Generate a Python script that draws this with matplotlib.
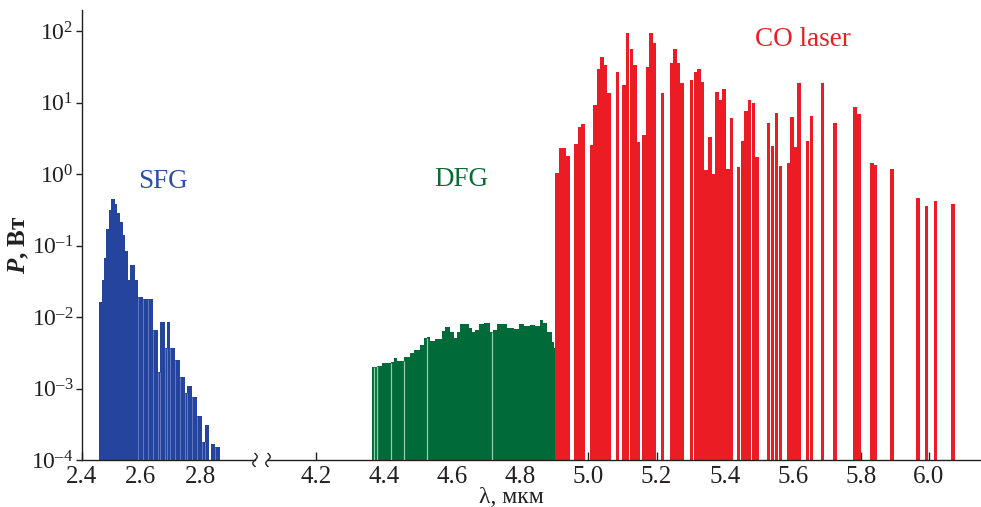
import numpy as np
import matplotlib
matplotlib.use('Agg')
import matplotlib.pyplot as plt
import matplotlib.transforms as mtransforms
from matplotlib.lines import Line2D
from matplotlib.ticker import FixedLocator, NullLocator, FuncFormatter, FormatStrFormatter

plt.rcParams['font.family'] = ['Liberation Serif', 'DejaVu Serif']
plt.rcParams['mathtext.fontset'] = 'custom'
plt.rcParams['mathtext.rm'] = 'Liberation Serif'
plt.rcParams['mathtext.it'] = 'Liberation Serif:italic:bold'
plt.rcParams['mathtext.bf'] = 'Liberation Serif:bold'

# ---------------- data ----------------
# SFG: step spectrum, bin edges (um) and power (W)
sfg_edges = [2.4599, 2.4678, 2.4756, 2.4824, 2.4935, 2.5003, 2.5126, 2.5204, 2.5294,
             2.5384, 2.5462, 2.5552, 2.5630, 2.5798, 2.5910, 2.6078, 2.6246, 2.6414,
             2.6583, 2.6639, 2.6807, 2.6863, 2.6975, 2.7143, 2.7311, 2.7479, 2.7557,
             2.7703, 2.7893, 2.8061, 2.8151, 2.8286, 2.8342, 2.8487, 2.8655]
sfg_power = [0.0164, 0.0329, 0.0662, 0.168, 0.314, 0.443, 0.380, 0.282, 0.215, 0.140,
             0.0845, 0.0329, 0.0533, 0.0329, 0.0188, 0.0177, 0.0177, 0.00658, 0.00172,
             0.00861, 0.00365, 0.00861, 0.00365, 0.00251, 0.00143, 0.000855, 0.00109,
             0.000769, 0.000412, 0.000180, 0.000309, np.nan, 0.000166, 0.000153]

# DFG: step spectrum, bin edges (um) and power (W)
dfg_edges = [4.3657, 4.3794, 4.3931, 4.4196, 4.4275, 4.4373, 4.4578, 4.4765, 4.4863,
             4.5059, 4.5157, 4.5255, 4.5353, 4.5500, 4.5696, 4.5794, 4.5941, 4.6039,
             4.6137, 4.6235, 4.6480, 4.6578, 4.6676, 4.6775, 4.6922, 4.7118, 4.7186,
             4.7314, 4.7608, 4.7804, 4.7951, 4.8098, 4.8294, 4.8441, 4.8588, 4.8667,
             4.8784, 4.8931, 4.8980, 4.9029]
dfg_power = [0.00198, 0.00207, 0.00225, 0.00237, 0.00264, 0.00243, 0.00279, 0.00310,
             0.00345, 0.00406, 0.00514, 0.00519, 0.00467, 0.00488, 0.00644, 0.00716,
             0.00624, 0.00504, 0.00624, 0.00789, 0.00693, 0.00611, 0.00658, 0.00798,
             0.00815, 0.00624, 0.00658, 0.00789, 0.00693, 0.00672, 0.00789, 0.00748,
             0.00773, 0.00748, 0.00908, 0.00815, 0.00624, 0.00452, 0.00365]
dfg_gaps = [4.3715, 4.3804, 4.4196, 4.4569, 4.5255, 4.7167]

# CO laser lines: wavelength (um) and power (W)
co_wl = [4.9082, 4.9188, 4.9294, 4.9397, 4.9638, 4.9741, 4.9841, 5.0091, 5.0191, 5.0291,
         5.0394, 5.0494, 5.0597, 5.0853, 5.1044, 5.1153, 5.1259, 5.1368, 5.1476, 5.1632,
         5.1735, 5.1841, 5.1947, 5.2168, 5.2435, 5.2541, 5.2647, 5.2750, 5.3032, 5.3141,
         5.3247, 5.3353, 5.3459, 5.3565, 5.3671, 5.3776, 5.3882, 5.3988, 5.4097, 5.4203,
         5.4409, 5.4518, 5.4626, 5.4735, 5.4847, 5.4956, 5.5294, 5.5409, 5.5524, 5.5638,
         5.5875, 5.5978, 5.6081, 5.6184, 5.6435, 5.6544, 5.6882, 5.7244, 5.7831, 5.7944,
         5.8329, 5.8435, 5.8921, 5.9685, 5.9935, 6.0197, 6.0706]
co_p = [1.02, 2.29, 2.33, 1.79, 2.63, 4.50, 5.00, 2.54, 9.23, 29.1, 43.8, 33.5, 13.4,
        26.4, 17.6, 92.7, 55.4, 33.5, 2.83, 3.51, 31.7, 92.7, 68.7, 13.7, 35.3, 55.4,
        35.3, 18.9, 20.6, 27.0, 29.1, 19.6, 1.14, 3.26, 1.0, 14.2, 10.8, 15.3, 1.16,
        6.0, 1.27, 2.93, 7.69, 10.8, 9.73, 1.71, 5.11, 2.46, 7.06, 1.29, 1.44, 6.20,
        2.41, 18.5, 2.93, 6.48, 18.5, 5.11, 8.74, 6.90, 1.41, 1.34, 1.17, 0.457, 0.361,
        0.419, 0.376]

y_ticks = [1e-4, 1e-3, 1e-2, 1e-1, 1e0, 1e1, 1e2]
x_ticks_left = [2.4, 2.6, 2.8]
x_ticks_right = [4.2, 4.4, 4.6, 4.8, 5.0, 5.2, 5.4, 5.6, 5.8, 6.0]

# ---------------- style ----------------
BLUE = '#25449e'
GREEN = '#006a38'
RED = '#ec1c24'
INK = '#231f20'
BASE = 1e-4
YMAX = 197

fig = plt.figure(figsize=(9.81, 5.07), dpi=100)
W, H = 981, 507
axL = fig.add_axes([81.5 / W, 47 / H, (255 - 81.5) / W, 450 / H])
axR = fig.add_axes([268 / W, 47 / H, (981 - 268) / W, 450 / H])

for ax in (axL, axR):
    ax.set_yscale('log')
    ax.set_ylim(BASE, YMAX)
    ax.spines['top'].set_visible(False)
    ax.spines['right'].set_visible(False)
    ax.spines['bottom'].set_color(INK)
    ax.spines['left'].set_color(INK)
    ax.spines['bottom'].set_linewidth(1.0)
    ax.spines['left'].set_linewidth(1.0)
    ax.patch.set_alpha(0)
    ax.tick_params(axis='x', direction='in', length=5.5, width=1.0, color=INK,
                   labelsize=18, labelcolor=INK, pad=4)
    ax.xaxis.set_major_formatter(FormatStrFormatter('%.1f'))

axL.set_xlim(2.4, 2.9832)
axR.set_xlim(4.0588, 6.153)
axL.xaxis.set_major_locator(FixedLocator(x_ticks_left))
axR.xaxis.set_major_locator(FixedLocator(x_ticks_right))


def pow_label(v, pos):
    ex = int(round(np.log10(v)))
    s = str(ex).replace('-', '\u2013')
    return r'$10^{%s}$' % s


axL.yaxis.set_major_locator(FixedLocator(y_ticks))
axL.yaxis.set_minor_locator(NullLocator())
axL.yaxis.set_major_formatter(FuncFormatter(pow_label))
axL.tick_params(axis='y', direction='out', length=4, width=1.0, color=INK,
                labelsize=17, labelcolor=INK, pad=2)
axR.spines['left'].set_visible(False)
axR.yaxis.set_minor_locator(NullLocator())
axR.tick_params(axis='y', left=False, labelleft=False)

# SFG
e = np.array(sfg_edges)
p = np.array(sfg_power)
ok = ~np.isnan(p)
axL.bar(e[:-1][ok], p[ok] - BASE, width=np.diff(e)[ok], bottom=BASE, align='edge',
        color=BLUE, linewidth=0, zorder=2)
pin = np.nan_to_num(p, nan=BASE)
inner = e[1:-1]
tops = np.minimum(pin[:-1], pin[1:])
m = inner > 2.59
axL.vlines(inner[m], BASE, tops[m], color='#6d82cc', lw=0.6, zorder=3)

# DFG
e = np.array(dfg_edges)
p = np.array(dfg_power)
axR.bar(e[:-1], p - BASE, width=np.diff(e), bottom=BASE, align='edge',
        color=GREEN, linewidth=0, zorder=2)
gap_tops = np.array([p[max(0, np.searchsorted(e, g) - 1)] for g in dfg_gaps])
axR.vlines(dfg_gaps, BASE, gap_tops, color='#8fd0a8', lw=0.9, zorder=3)

# CO laser
axR.bar(co_wl, np.array(co_p) - BASE, width=0.0102, bottom=BASE, align='center',
        color=RED, linewidth=0, zorder=2)


# break marks
def squiggle(ax, xa):
    t = np.linspace(-1, 1, 40)
    dx = 0.022 * np.sin(np.pi * t)
    dy = 0.065 * t
    trans = fig.dpi_scale_trans + mtransforms.ScaledTranslation(xa, 0, ax.transAxes)
    fig.add_artist(Line2D(dx, dy, transform=trans, color=INK, lw=1.0, clip_on=False))


squiggle(axL, 1.0)
squiggle(axR, 0.0)

# labels
fig.text(163 / W, 1 - 181 / H, 'SFG', color='#2b4ea6', fontsize=19.5, ha='center', va='center')
fig.text(461 / W, 1 - 179 / H, 'DFG', color='#0b6b35', fontsize=19.5, ha='center', va='center')
fig.text(803 / W, 1 - 40 / H, 'CO laser', color=RED, fontsize=19.5, ha='center', va='center')
fig.text(19 / W, 1 - 245 / H, r'$P$, Вт', rotation=90, fontsize=18, fontweight='bold',
         color=INK, ha='center', va='center')
fig.text(511 / W, 4 / H, 'λ, мкм', fontsize=17, color=INK, ha='center', va='baseline')

fig.savefig('out.png', dpi=100)
